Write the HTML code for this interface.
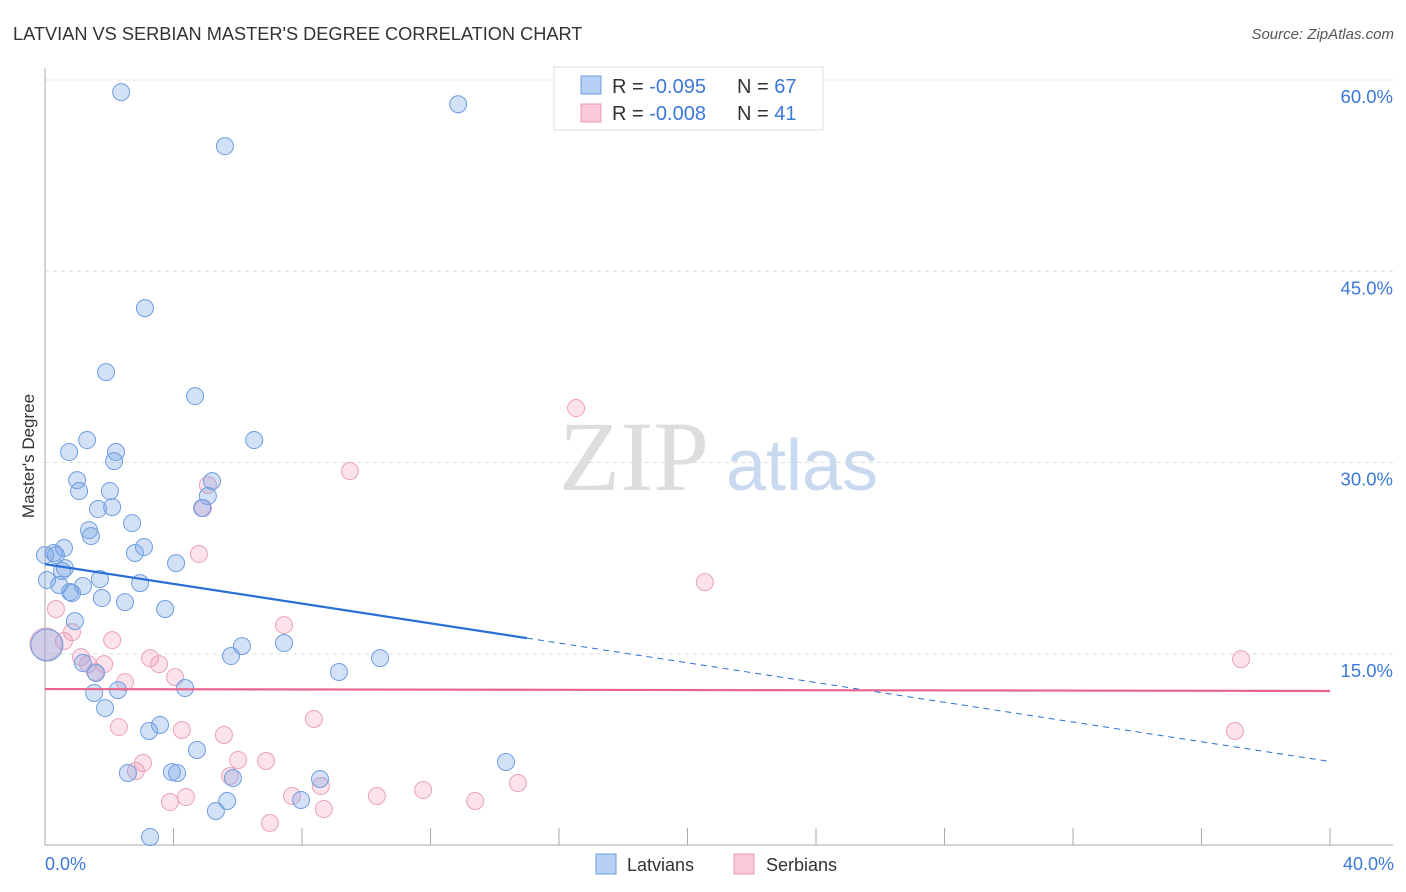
<!DOCTYPE html>
<html><head><meta charset="utf-8"><style>
body{margin:0;background:#fff;font-family:"Liberation Sans",sans-serif;}
svg{display:block}
</style></head><body>
<svg id="chart" width="1406" height="892">
<text x="13" y="40" font-size="18.2" fill="#333">LATVIAN VS SERBIAN MASTER'S DEGREE CORRELATION CHART</text>
<text x="1394" y="39" font-size="15" fill="#555" text-anchor="end" font-style="italic">Source: ZipAtlas.com</text>
<g id="grid"></g>
<text x="634" y="490" font-size="100" fill="#ddd" text-anchor="middle" font-family="Liberation Serif,serif">ZIP</text>
<text x="802" y="490" font-size="72" fill="#c9d9f0" text-anchor="middle">atlas</text>
<g id="pts"></g>
<g id="lines"></g>
<text x="34" y="456" font-size="17" fill="#333" text-anchor="middle" transform="rotate(-90 34 456)">Master's Degree</text>
<text x="45" y="870" font-size="18" fill="#3b78d8">0.0%</text>
<text x="1394" y="870" font-size="18" fill="#3b78d8" text-anchor="end">40.0%</text>
<g>
<rect x="554" y="67" width="269" height="63" fill="#fff" stroke="#ddd"/>
<rect x="581" y="76" width="20" height="18" fill="#b8d0f4" stroke="#6d9be0"/>
<rect x="581" y="104" width="20" height="18" fill="#f9c9d8" stroke="#ea98b5"/>
<text x="612" y="93" font-size="20" fill="#333">R = <tspan fill="#3b78d8">-0.095</tspan><tspan x="737">N = </tspan><tspan fill="#3b78d8">67</tspan></text>
<text x="612" y="120" font-size="20" fill="#333">R = <tspan fill="#3b78d8">-0.008</tspan><tspan x="737">N = </tspan><tspan fill="#3b78d8">41</tspan></text>
</g>
<g>
<rect x="596" y="854" width="20" height="20" fill="#b8d0f4" stroke="#6d9be0"/>
<text x="627" y="871" font-size="18" fill="#333">Latvians</text>
<rect x="734" y="854" width="20" height="20" fill="#f9c9d8" stroke="#ea98b5"/>
<text x="766" y="871" font-size="18" fill="#333">Serbians</text>
</g>
</svg>
<script>
const yTicks=[15,30,45,60];
const xTicks=[0,4,8,12,16,20,24,28,32,36,40];
const latX=[2.37,5.60,12.86,3.11,1.90,4.67,6.51,1.31,0.75,2.21,2.15,1.00,1.06,2.02,5.20,5.07,4.89,1.65,2.09,1.37,1.43,2.71,0.59,0.28,0.34,3.08,2.80,4.08,0.62,0.53,2.96,1.71,1.18,0.44,0.78,0.84,1.77,2.49,3.74,0.93,6.13,5.79,7.44,9.15,10.43,1.18,1.59,1.53,2.27,4.36,1.87,3.58,3.24,4.73,2.58,3.95,4.11,5.85,8.56,7.97,5.67,5.32,14.35,3.27,0.06,0.06,0.0];
const latY=[59.05,54.81,58.10,42.11,37.09,35.21,31.76,31.76,30.82,30.82,30.11,28.62,27.76,27.76,28.54,27.37,26.43,26.35,26.50,24.70,24.23,25.25,23.29,22.90,22.74,23.37,22.90,22.11,21.72,21.49,20.54,20.86,20.31,20.39,19.84,19.76,19.37,19.05,18.51,17.56,15.60,14.82,15.84,13.57,14.66,14.27,13.49,11.92,12.15,12.31,10.74,9.41,8.94,7.45,5.65,5.72,5.65,5.25,5.18,3.53,3.45,2.67,6.51,0.63,15.68,20.78,22.74];
const serX=[16.53,9.49,5.07,4.92,4.79,20.54,0.34,7.44,0.84,2.09,0.59,0.03,37.23,1.12,3.27,3.55,1.84,1.34,1.56,4.05,2.49,8.37,2.30,4.26,5.57,37.04,6.01,6.88,3.05,2.83,5.76,8.59,14.72,7.69,4.39,3.89,10.33,11.77,13.39,8.68,7.00];
const serY=[34.27,29.33,28.23,26.43,22.82,20.62,18.51,17.25,16.70,16.07,16.00,15.76,14.58,14.74,14.66,14.19,14.19,14.19,13.57,13.17,12.78,9.88,9.25,9.02,8.63,8.94,6.67,6.59,6.43,5.80,5.41,4.63,4.86,3.84,3.76,3.37,3.84,4.31,3.45,2.82,1.73];
const latTrend=[22.03,6.55];
const latSolidEnd=15.0;
const serTrend=[12.23,12.08];
const NS='http://www.w3.org/2000/svg';
const X=v=>45+v/40*1285;
const Y=v=>845-v/60*765;
function mk(p,tag,at){const e=document.createElementNS(NS,tag);for(const k in at)e.setAttribute(k,at[k]);p.appendChild(e);return e;}
const grid=document.getElementById('grid');
yTicks.forEach(t=>{
 const l=mk(grid,'line',{x1:45,x2:1393,y1:Y(t),y2:Y(t),stroke:'#ddd','stroke-dasharray':'4,4'});
 
 
 const tx=mk(grid,'text',{x:1393,y:Y(t)+23,'font-size':18.5,fill:'#3b78d8','text-anchor':'end'});
 tx.textContent=t.toFixed(1)+'%';
 
 
});
const ax=mk(grid,'line',{x1:45,x2:45,y1:68,y2:845,stroke:'#aaa'});


const bx=mk(grid,'line',{x1:45,x2:1393,y1:845,y2:845,stroke:'#aaa'});


xTicks.forEach(t=>{
 const l=mk(grid,'line',{x1:X(t),x2:X(t),y1:828,y2:845,stroke:'#aaa'});
 
 
});
const pts=document.getElementById('pts');
function dots(xs,ys,fill,stroke,name){
 xs.forEach((x,i)=>{
  const big=(x<0.2&&ys[i]>15&&ys[i]<16);
  const c=mk(pts,'circle',{cx:X(x),cy:Y(ys[i]),r:big?16:8.5,fill:fill,stroke:stroke,'stroke-width':1});
  
  
 });
}
dots(serX,serY,'rgba(242,160,190,0.3)','#eaa2bc','serbian-point');
dots(latX,latY,'rgba(120,165,232,0.33)','#6d9ee0','latvian-point');
const lines=document.getElementById('lines');
const ly=x=>latTrend[0]+(latTrend[1]-latTrend[0])*x/40;
let l1=mk(lines,'line',{x1:X(0),y1:Y(ly(0)),x2:X(latSolidEnd),y2:Y(ly(latSolidEnd)),stroke:'#2a6fd6','stroke-width':2.2});


let l2=mk(lines,'line',{x1:X(latSolidEnd),y1:Y(ly(latSolidEnd)),x2:X(39.9),y2:Y(ly(39.9)),stroke:'#2a6fd6','stroke-width':1,'stroke-dasharray':'6,5'});


let l3=mk(lines,'line',{x1:X(0),y1:Y(serTrend[0]),x2:X(40),y2:Y(serTrend[1]),stroke:'#e8648f','stroke-width':2.2});


</script>
</body></html>
